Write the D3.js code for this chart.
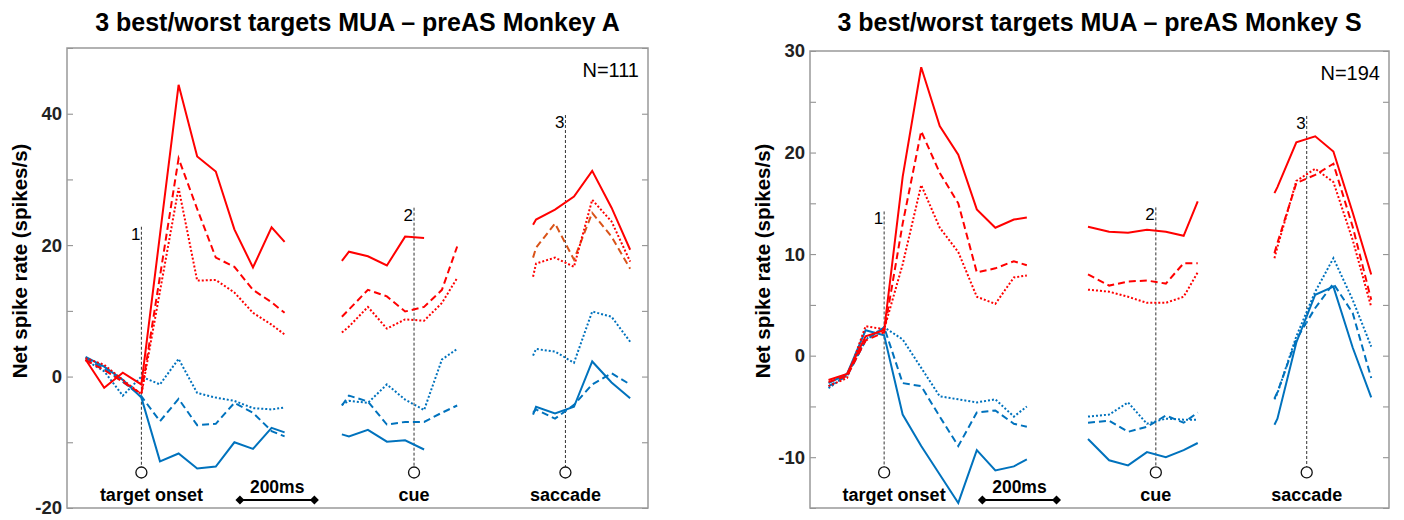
<!DOCTYPE html>
<html>
<head>
<meta charset="utf-8">
<script src="https://cdn.jsdelivr.net/npm/d3@7"></script>
<style>
  body { margin: 0; background: #fff; }
  text { font-family: "Liberation Sans", Arial, sans-serif; }
</style>
</head>
<body>
<svg id="chart" width="1404" height="520"></svg>
<script>
// bin times (ms), relative to each event
var tTarget = [-150, -100, -50, 0, 50, 100, 150, 200, 250, 300, 350, 385];
var tCueA = [-194, -175, -124, -73, -24, 27, 75, 116];
var tCueS = [-183, -126, -75, -24, 27, 75, 113];
var tSacc = [-87, -79, -28, 23, 72, 124, 174];

// event positions on the shared time axis
var eventNames = ["target onset", "cue", "saccade"];
var eventTimes = [0, 733, 1140];
var lineStyles = ["solid", "dashed", "dotted"];

// Monkey A : [solid, dashed, dotted]
var aTargetRed = [
  [2.6, -1.7, 0.6, -1.2, 21.6, 44.4, 33.5, 31.2, 22.4, 16.6, 22.7, 20.5],
  [2.5, 1.0, -0.8, -2.6, 15.3, 33.2, 25.5, 18.1, 16.7, 13.2, 11.3, 9.7],
  [2.8, 1.8, -0.5, -2.7, 13.0, 28.7, 14.6, 14.7, 12.8, 9.7, 7.9, 6.4]
];
var aTargetBlue = [
  [3.0, 1.5, -0.5, -3.2, -12.9, -11.7, -14.0, -13.7, -10.0, -11.0, -7.8, -8.5],
  [2.8, 1.2, -0.8, -3.0, -6.8, -3.4, -7.4, -7.2, -4.0, -5.5, -8.3, -9.1],
  [2.5, 0.8, -2.9, 0.0, -1.2, 2.7, -2.5, -3.2, -3.7, -4.8, -5.0, -4.7]
];
var aCueRed = [
  [17.6, 19.0, 18.3, 16.9, 21.3, 21.1],
  [9.1, 10.2, 13.2, 12.2, 9.9, 10.6, 13.2, 19.8],
  [6.7, 7.6, 10.6, 7.3, 8.7, 8.5, 11.2, 15.0]
];
var aCueBlue = [
  [-8.8, -9.1, -8.1, -9.9, -9.7, -11.1],
  [-4.4, -2.9, -3.8, -7.3, -6.9, -6.9, -5.5, -4.4],
  [-4.3, -3.7, -4.0, -1.2, -3.5, -5.1, 2.6, 4.2]
];
var aSaccRed = [
  [23.1, 23.9, 25.4, 27.4, 31.3, 25.7, 19.3],
  [18.1, 19.6, 23.3, 17.8, 24.9, 21.3, 16.4],
  [15.2, 17.2, 18.1, 16.7, 26.9, 23.6, 17.5]
];
var aSaccBlue = [
  [-5.8, -4.6, -5.6, -4.6, 2.3, -0.9, -3.3],
  [-5.5, -5.0, -6.4, -4.3, -1.2, 0.5, -1.2],
  [3.2, 4.2, 3.8, 2.1, 9.9, 9.1, 5.3]
];

// Monkey S : [solid, dashed, dotted]
var sTargetRed = [
  [-2.4, -1.8, 1.9, 2.5, 17.6, 28.4, 22.6, 19.8, 14.4, 12.6, 13.4, 13.6],
  [-2.6, -2.0, 1.5, 2.3, 13.0, 22.1, 18.0, 15.0, 8.2, 8.6, 9.3, 8.9],
  [-3.0, -2.2, 2.9, 2.6, 9.0, 16.8, 12.6, 10.2, 5.8, 5.1, 7.7, 7.9]
];
var sTargetBlue = [
  [-2.7, -1.8, 2.5, 2.0, -5.8, -8.9, -11.7, -14.5, -9.3, -11.3, -10.9, -10.2],
  [-3.0, -2.0, 1.5, 2.8, -2.7, -3.0, -6.0, -8.9, -5.6, -5.4, -6.7, -7.0],
  [-3.2, -1.9, 1.6, 2.8, 1.6, -1.2, -4.0, -4.3, -4.6, -4.3, -6.0, -5.0]
];
var sCueRed = [
  [12.7, 12.2, 12.1, 12.4, 12.2, 11.8, 15.2],
  [8.0, 6.9, 7.3, 7.4, 7.1, 9.1, 9.1],
  [6.5, 6.3, 5.8, 5.2, 5.2, 5.8, 8.2]
];
var sCueBlue = [
  [-8.2, -10.3, -10.8, -9.5, -10.0, -9.3, -8.6],
  [-6.6, -6.4, -7.5, -7.0, -5.9, -6.6, -5.6],
  [-6.0, -5.8, -4.6, -6.7, -6.2, -6.3, -6.3]
];
var sSaccRed = [
  [16.0, 16.6, 21.0, 21.6, 20.1, 14.1, 8.0],
  [10.1, 11.1, 17.0, 17.8, 18.9, 12.7, 5.5],
  [9.6, 10.7, 17.2, 18.4, 17.1, 11.4, 4.8]
];
var sSaccBlue = [
  [-6.8, -6.2, 1.3, 6.0, 6.8, 0.8, -4.1],
  [-4.2, -3.6, 1.6, 4.7, 7.1, 4.2, -2.2],
  [-4.3, -3.7, 1.9, 6.3, 9.6, 5.5, 0.9]
];

var RED = "#ff0000", BLUE = "#0072bd", ORANGE = "#d95319";

var panels = [
  {
    title: "3 best/worst targets MUA \u2013 preAS Monkey A", n: "N=111",
    x0: 67, x1: 648, y0: 48, y1: 508,
    yDomain: [-20, 50], tickStep: 10, labelStep: 20,
    eventTops: [22.8, 25.7, 39.8], circleVal: -14.6,
    segments: [
      { t: tTarget, ev: 0, red: aTargetRed, blue: aTargetBlue },
      { t: tCueA, ev: 1, red: aCueRed, blue: aCueBlue },
      { t: tSacc, ev: 2, red: aSaccRed, blue: aSaccBlue, dashedColor: ORANGE }
    ]
  },
  {
    title: "3 best/worst targets MUA \u2013 preAS Monkey S", n: "N=194",
    x0: 810, x1: 1389, y0: 51, y1: 508,
    yDomain: [-15, 30], tickStep: 5, labelStep: 10,
    eventTops: [14.2, 14.6, 23.6], circleVal: -11.5,
    segments: [
      { t: tTarget, ev: 0, red: sTargetRed, blue: sTargetBlue },
      { t: tCueS, ev: 1, red: sCueRed, blue: sCueBlue },
      { t: tSacc, ev: 2, red: sSaccRed, blue: sSaccBlue }
    ]
  }
];

var dashFor = { solid: null, dashed: "7,4", dotted: "2,2" };
var svg = d3.select("#chart");

panels.forEach(function(p) {
  var x = d3.scaleLinear().domain([-200, 1362]).range([p.x0, p.x1]);
  var y = d3.scaleLinear().domain(p.yDomain).range([p.y1, p.y0]);
  var g = svg.append("g");

  // title
  g.append("text")
    .attr("x", (p.x0 + p.x1) / 2).attr("y", 31)
    .attr("text-anchor", "middle")
    .style("font-size", "25px").style("font-weight", "bold")
    .text(p.title);

  // axes
  var ticks = d3.range(p.yDomain[0], p.yDomain[1] + 0.1, p.tickStep);
  var left = g.append("g")
    .attr("transform", "translate(" + p.x0 + ",0)")
    .call(d3.axisLeft(y).tickValues(ticks).tickSizeInner(-6).tickSizeOuter(0).tickPadding(5)
      .tickFormat(function(v) { return v % p.labelStep === 0 ? String(v) : ""; }));
  left.select(".domain").remove();
  left.selectAll("text").style("font-size", "18.5px").style("font-weight", "bold")
    .style("font-family", "'Liberation Sans', Arial, sans-serif").attr("fill", "#222");
  left.selectAll("line").attr("stroke", "#888");

  var right = g.append("g")
    .attr("transform", "translate(" + p.x1 + ",0)")
    .call(d3.axisRight(y).tickValues(ticks).tickSizeInner(-6).tickSizeOuter(0).tickFormat(""));
  right.select(".domain").remove();
  right.selectAll("line").attr("stroke", "#888");

  g.append("rect")
    .attr("x", p.x0).attr("y", p.y0)
    .attr("width", p.x1 - p.x0).attr("height", p.y1 - p.y0)
    .attr("fill", "none").attr("stroke", "#999").attr("stroke-width", 1.5);

  // y label
  g.append("text")
    .attr("transform", "translate(" + (p.x0 - 40) + "," + 261 + ") rotate(-90)")
    .attr("text-anchor", "middle")
    .style("font-size", "20.5px").style("font-weight", "bold")
    .text("Net spike rate (spikes/s)");

  // N label
  g.append("text")
    .attr("x", p.x1 - 9).attr("y", p.y0 + 29)
    .attr("text-anchor", "end")
    .style("font-size", "20px")
    .text(p.n);

  // event markers
  eventTimes.forEach(function(et, i) {
    var ex = x(et);
    var cy = y(p.circleVal);
    g.append("line")
      .attr("x1", ex).attr("x2", ex)
      .attr("y1", y(p.eventTops[i])).attr("y2", cy - 5.5)
      .attr("stroke", "#333").attr("stroke-width", 1)
      .attr("stroke-dasharray", "3,2");
    g.append("circle")
      .attr("cx", ex).attr("cy", cy).attr("r", 5.5)
      .attr("fill", "#fff").attr("stroke", "#111").attr("stroke-width", 1.3);
    g.append("text")
      .attr("x", ex - 1).attr("y", y(p.eventTops[i]) + 13)
      .attr("text-anchor", "end")
      .style("font-size", "17px")
      .text(String(i + 1));
    g.append("text")
      .attr("x", ex + (i === 0 ? 10 : 0)).attr("y", p.y1 - 7)
      .attr("text-anchor", "middle")
      .style("font-size", "18px").style("font-weight", "bold")
      .text(eventNames[i]);
  });

  // 200 ms scale bar
  var bx0 = x(265), bx1 = x(465), by = p.y1 - 8;
  g.append("line")
    .attr("x1", bx0).attr("x2", bx1).attr("y1", by).attr("y2", by)
    .attr("stroke", "#000").attr("stroke-width", 2);
  [bx0, bx1].forEach(function(bx) {
    g.append("path")
      .attr("d", "M" + (bx - 4.5) + "," + by + "L" + bx + "," + (by - 4.5) +
        "L" + (bx + 4.5) + "," + by + "L" + bx + "," + (by + 4.5) + "Z")
      .attr("fill", "#000");
  });
  g.append("text")
    .attr("x", (bx0 + bx1) / 2).attr("y", by - 7)
    .attr("text-anchor", "middle")
    .style("font-size", "17.5px").style("font-weight", "bold")
    .text("200ms");

  // traces
  p.segments.forEach(function(seg) {
    var off = eventTimes[seg.ev];
    var line = d3.line()
      .x(function(d, i) { return x(off + seg.t[i]); })
      .y(function(d) { return y(d); });
    [["blue", BLUE], ["red", RED]].forEach(function(c) {
      seg[c[0]].forEach(function(vals, k) {
        var style = lineStyles[k];
        var col = c[1];
        if (c[0] === "red" && style === "dashed" && seg.dashedColor) col = seg.dashedColor;
        g.append("path")
          .attr("d", line(vals))
          .attr("fill", "none")
          .attr("stroke", col)
          .attr("stroke-width", 2)
          .attr("stroke-dasharray", dashFor[style]);
      });
    });
  });
});
</script>
</body>
</html>
